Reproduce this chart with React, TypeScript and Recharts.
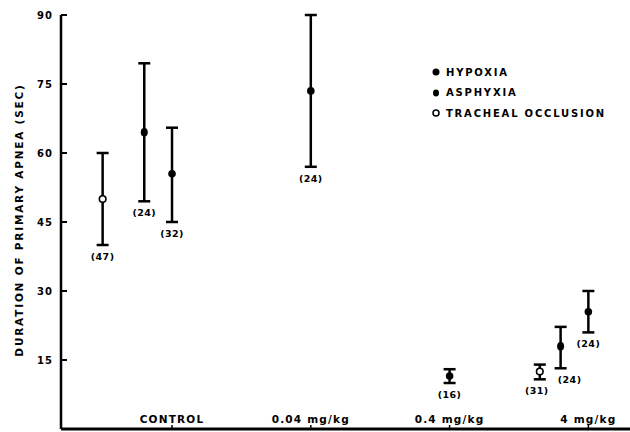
import { ScatterChart, Scatter, XAxis, YAxis, ErrorBar } from "recharts"

const doses = ["CONTROL", "0.04 mg/kg", "0.4 mg/kg", "4 mg/kg"]
const yTicks = [15, 30, 45, 60, 75, 90]

// hypoxia
const hypoxiaDose = [0, 1, 2, 3]
const hypoxiaMean = [55.5, 73.5, 11.5, 25.5]
const hypoxiaLow = [45, 57, 10, 21]
const hypoxiaHigh = [65.5, 90, 13, 30]
const hypoxiaN = [32, 24, 16, 24]

// asphyxia
const asphyxiaDose = [0, 3]
const asphyxiaMean = [64.5, 18]
const asphyxiaLow = [49.5, 13.2]
const asphyxiaHigh = [79.5, 22.2]
const asphyxiaN = [24, 24]

// tracheal occlusion
const trachealDose = [0, 3]
const trachealMean = [50, 12.5]
const trachealLow = [40, 10.8]
const trachealHigh = [60, 14]
const trachealN = [47, 31]

// horizontal dodge inside a dose group, and label nudges
const hypoxiaShift = [0, 0, 0, 0]
const asphyxiaShift = [-0.2, -0.2]
const trachealShift = [-0.5, -0.35]
const hypoxiaLabelDx = [0, 0, 0, 0]
const asphyxiaLabelDx = [0, 9]
const trachealLabelDx = [0, -3]

const FONT = "'DejaVu Sans', 'Liberation Sans', sans-serif"

function build(dose: number[], mean: number[], low: number[], high: number[], n: number[], shift: number[], dx: number[]) {
    return dose.map((d, i) => ({
        x: d + 1 + shift[i],
        y: mean[i],
        err: [mean[i] - low[i], high[i] - mean[i]],
        low: low[i],
        n: n[i],
        dx: dx[i],
    }))
}

const hypoxia = build(hypoxiaDose, hypoxiaMean, hypoxiaLow, hypoxiaHigh, hypoxiaN, hypoxiaShift, hypoxiaLabelDx)
const asphyxia = build(asphyxiaDose, asphyxiaMean, asphyxiaLow, asphyxiaHigh, asphyxiaN, asphyxiaShift, asphyxiaLabelDx)
const tracheal = build(trachealDose, trachealMean, trachealLow, trachealHigh, trachealN, trachealShift, trachealLabelDx)

// (n) labels sit just under the lower whisker
const countLabels = [...tracheal, ...asphyxia, ...hypoxia].map(r => ({ x: r.x, y: r.low, n: r.n, dx: r.dx }))

function YTick({ x, y, payload }: any) {
    return (
        <g>
            <line x1={x} x2={x + 6} y1={y} y2={y} stroke="#000" strokeWidth={2} />
            <text x={x - 8} y={y + 4} textAnchor="end" fontFamily={FONT} fontWeight={700} fontSize={10} letterSpacing={1} fill="#000">
                {payload.value}
            </text>
        </g>
    )
}

function XTick({ x, y, payload }: any) {
    return (
        <g>
            <line x1={x} x2={x} y1={y} y2={y - 4} stroke="#000" strokeWidth={1.5} />
            <text x={x} y={y - 6} textAnchor="middle" fontFamily={FONT} fontWeight={700} fontSize={10.5} letterSpacing={1.2} fill="#000">
                {doses[payload.value - 1]}
            </text>
        </g>
    )
}

function YTitle() {
    return (
        <text x={19} y={220} transform="rotate(-90, 19, 220)" textAnchor="middle" dominantBaseline="central"
            fontFamily={FONT} fontWeight={700} fontSize={10.5} letterSpacing={1.8} fill="#000">
            DURATION OF PRIMARY APNEA (SEC)
        </text>
    )
}

function Legend() {
    const row = { display: "flex", alignItems: "center", height: 20.5 } as const
    const txt = { fontFamily: FONT, fontWeight: 700, fontSize: 10, letterSpacing: 1.8, marginLeft: 5 } as const
    return (
        <div style={{ position: "absolute", left: 431, top: 62 }}>
            <div style={row}>
                <svg width={10} height={10}><circle cx={5} cy={5} r={3.5} fill="#000" /></svg>
                <span style={txt}>HYPOXIA</span>
            </div>
            <div style={row}>
                <svg width={10} height={10}><ellipse cx={5} cy={5} rx={3} ry={3.4} fill="#000" /></svg>
                <span style={txt}>ASPHYXIA</span>
            </div>
            <div style={row}>
                <svg width={10} height={10}><circle cx={5} cy={5} r={3} fill="#fff" stroke="#000" strokeWidth={1.5} /></svg>
                <span style={txt}>TRACHEAL OCCLUSION</span>
            </div>
        </div>
    )
}

export default function App() {
    return (
        <div style={{ position: "absolute", left: 0, top: 0, width: 630, height: 432, background: "#fff" }}>
            <ScatterChart width={630} height={432} margin={{ top: 15, right: 0, bottom: 0, left: 0 }}>
                <XAxis
                    type="number"
                    dataKey="x"
                    domain={[0.2, 4.3]}
                    ticks={[1, 2, 3, 4]}
                    allowDataOverflow
                    height={3}
                    tickSize={0}
                    tickMargin={0}
                    axisLine={{ stroke: "#000", strokeWidth: 3 }}
                    tick={<XTick />}
                />
                <YAxis
                    type="number"
                    dataKey="y"
                    domain={[0, 90]}
                    ticks={yTicks}
                    allowDataOverflow
                    width={61}
                    tickSize={0}
                    tickMargin={0}
                    axisLine={{ stroke: "#000", strokeWidth: 2.5 }}
                    tick={<YTick />}
                    label={<YTitle />}
                />

                <Scatter
                    data={tracheal}
                    isAnimationActive={false}
                    shape={(p: any) => <circle cx={p.cx} cy={p.cy} r={3.3} fill="#fff" stroke="#000" strokeWidth={1.6} />}
                >
                    <ErrorBar dataKey="err" direction="y" width={6} stroke="#000" strokeWidth={2.5} />
                </Scatter>

                <Scatter
                    data={asphyxia}
                    isAnimationActive={false}
                    shape={(p: any) => <ellipse cx={p.cx} cy={p.cy} rx={3.5} ry={4.3} fill="#000" />}
                >
                    <ErrorBar dataKey="err" direction="y" width={6} stroke="#000" strokeWidth={2.5} />
                </Scatter>

                <Scatter
                    data={hypoxia}
                    isAnimationActive={false}
                    shape={(p: any) => <circle cx={p.cx} cy={p.cy} r={3.8} fill="#000" />}
                >
                    <ErrorBar dataKey="err" direction="y" width={6} stroke="#000" strokeWidth={2.5} />
                </Scatter>

                <Scatter
                    data={countLabels}
                    isAnimationActive={false}
                    shape={(p: any) => (
                        <text x={p.cx + p.payload.dx} y={p.cy + 15} textAnchor="middle" fontFamily={FONT}
                            fontWeight={700} fontSize={9.5} letterSpacing={0.4} fill="#000">
                            ({p.payload.n})
                        </text>
                    )}
                />
            </ScatterChart>
            <Legend />
        </div>
    )
}
